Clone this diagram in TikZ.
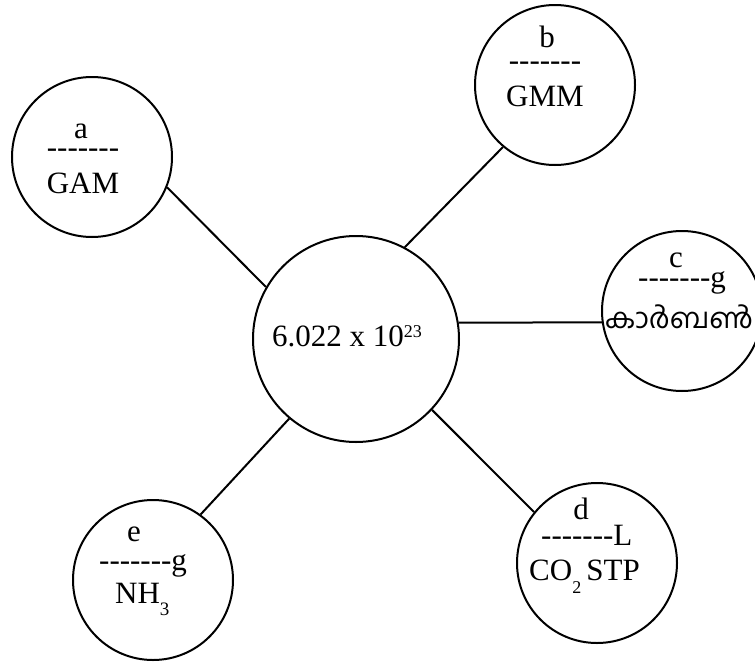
\documentclass[tikz,border=0pt]{standalone}
\usepackage{fontspec}
\setmainfont{Liberation Serif}
\newfontfamily\malfont[Script=Malayalam]{Hind Kochi}
\usepackage{graphicx}
\newcommand\blankline{\mbox{-}\mbox{-}\mbox{-}\mbox{-}\mbox{-}\mbox{-}\mbox{-}}
\begin{document}
\begin{tikzpicture}[x=1pt,y=-1pt,
  bubble/.style={circle,draw,line width=2pt,minimum size=160pt,inner sep=0pt},
  hub/.style={circle,draw,line width=2pt,minimum size=206pt,inner sep=0pt},
  link/.style={line width=2pt},
  txt/.style={inner sep=0pt,anchor=base,font=\fontsize{31}{31}\selectfont},
  txtw/.style={txt,anchor=base west}]
\useasboundingbox (0,0) rectangle (755,664);
\node[hub] (hubc) at (356,339) {};
\node[bubble] (ca) at (92,157) {};
\node[bubble] (cb) at (555,85) {};
\node[bubble] (cc) at (682,311) {};
\node[bubble] (cd) at (597,563) {};
\node[bubble] (ce) at (153,580) {};
\draw[link] (ca.-22) -- (hubc.150);
\draw[link] (cb.-130) -- (hubc.62);
\draw[link] (hubc.9) -- (cc.188.6);
\draw[link] (hubc.-43) -- (cd.141);
\draw[link] (hubc.-130) -- (ce.54);
% centre text
\node[txtw] (tnum) at (272,346) {6.022 x 10\raisebox{9pt}{\fontsize{18}{18}\selectfont 23}};
% a
\node[txt] (ta1) at (81,138) {a};
\node[txt] (ta2) at (83,157) {\blankline};
\node[txt] (ta3) at (83,193) {GAM};
% b
\node[txt] (tb1) at (547,47) {b};
\node[txt] (tb2) at (545,70) {\blankline};
\node[txt] (tb3) at (545,106) {GMM};
% c
\node[txt] (tc1) at (676,267) {c};
\node[txtw] (tc2) at (638,287) {\blankline g};
\node[inner sep=0pt,anchor=base] (tc3) at (679,328) {\resizebox{148pt}{!}{\malfont കാർബൺ}};
% d
\node[txt] (td1) at (581,519) {d};
\node[txtw] (td2) at (541,545) {\blankline L};
\node[txtw] (td3) at (529,580) {CO\raisebox{-13pt}{\fontsize{18}{18}\selectfont 2}\,STP};
% e
\node[txt] (te1) at (134,541) {e};
\node[txtw] (te2) at (99,570) {\blankline g};
\node[txtw] (te3) at (115,603) {NH\raisebox{-12pt}{\fontsize{19}{19}\selectfont 3}};
\end{tikzpicture}
\end{document}
